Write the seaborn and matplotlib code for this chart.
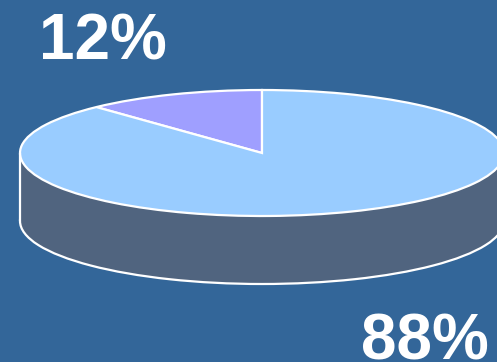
import matplotlib
matplotlib.use("Agg")
import matplotlib.pyplot as plt
from matplotlib.patches import Rectangle
import seaborn as sns

sns.set_theme(style="white")
plt.rcParams['font.family'] = ['Liberation Sans', 'DejaVu Sans']

shares = [12, 88]
labels = ["12%", "88%"]
top_colors = ["#9F9FFF", "#99CCFF"]
wall_color = "#50647F"
bg = "#336699"

W, H = 497, 362
fig = plt.figure(figsize=(W / 100, H / 100), dpi=100, facecolor=bg)
left, right, top, bottom = 20, 504, 90, 216
ax = fig.add_axes([left / W, 1 - bottom / H, (right - left) / W, (bottom - top) / H])
ax.set_facecolor("none")
ax.axis("off")

depth = 68 / 63
lw = 1.6
ax.pie([1], colors=[wall_color], center=(0, -depth), radius=1, frame=False,
       wedgeprops=dict(edgecolor="white", linewidth=lw, clip_on=False))
ax.add_patch(Rectangle((-1, -depth), 2, depth, facecolor=wall_color, edgecolor="none", clip_on=False))
ax.plot([-1, -1], [0, -depth], color="white", lw=lw, clip_on=False)
ax.pie(shares, colors=top_colors, startangle=90, counterclock=True, radius=1, frame=False,
       wedgeprops=dict(edgecolor="white", linewidth=lw, clip_on=False))
ax.set_xlim(-1, 1)
ax.set_ylim(-1, 1)
ax.set_aspect("auto")

fig.text(39 / W, 1 - 60 / H, labels[0], color="white", fontsize=46, fontweight="bold", ha="left", va="baseline")
fig.text(361 / W, 1 - 359 / H, labels[1], color="white", fontsize=46, fontweight="bold", ha="left", va="baseline")

fig.savefig("out.png", dpi=100, facecolor=bg)
